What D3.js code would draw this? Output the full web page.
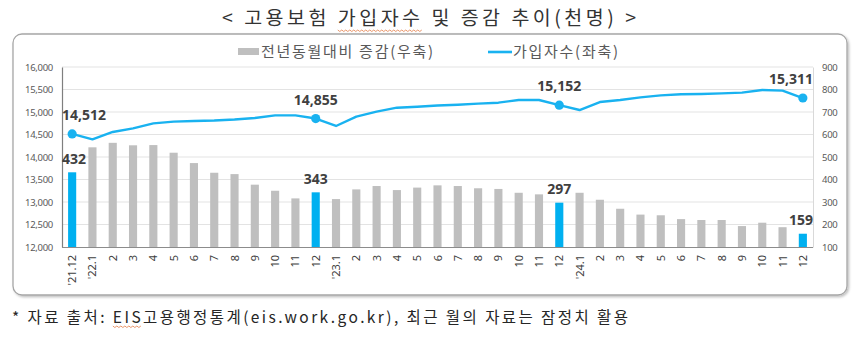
<!DOCTYPE html>
<html>
<head>
<meta charset="utf-8">
<script src="https://cdn.jsdelivr.net/npm/d3@7/dist/d3.min.js"></script>
<style>
  html, body { margin: 0; padding: 0; background: #fff; }
  svg { display: block; }
</style>
</head>
<body>
<svg id="chart" width="860" height="340"></svg>
<script>
// Month labels: Dec 2021 through Dec 2024
const months = ["'21.12",
  "'22.1","2","3","4","5","6","7","8","9","10","11","12",
  "'23.1","2","3","4","5","6","7","8","9","10","11","12",
  "'24.1","2","3","4","5","6","7","8","9","10","11","12"];

// Insured persons (thousands) — left axis
const subscribers = [14512,
  14393,14556,14637,14748,14785,14800,14811,14833,14867,14926,14926,14855,
  14689,14896,15007,15096,15118,15144,15160,15185,15207,15267,15267,15152,
  15044,15222,15267,15326,15370,15393,15400,15415,15430,15489,15474,15311];

// Year-on-year change (thousands) — right axis
const yoyChange = [432,
  543,563,552,553,519,473,430,424,377,350,316,343,
  313,356,371,353,364,374,371,361,358,341,334,297,
  341,310,270,244,241,224,220,220,193,208,188,159];

// December points get highlighted and labelled
const highlightIdx = [0, 12, 24, 36];

const leftTicks = [12000,12500,13000,13500,14000,14500,15000,15500,16000];
const rightTicks = [100,200,300,400,500,600,700,800,900];

const titleText = "< 고용보험 가입자수 및 증감 추이(천명) >";
const legendBarText = "전년동월대비 증감(우축)";
const legendLineText = "가입자수(좌축)";
const footnoteText = "* 자료 출처: EIS고용행정통계(eis.work.go.kr), 최근 월의 자료는 잠정치 활용";

const svg = d3.select("#chart");
const KR = "'Noto Sans CJK KR', 'Noto Sans', sans-serif";
const NUM = "'Noto Sans', 'Open Sans', sans-serif";

const plot = { left: 62, right: 813, top: 67, bottom: 247 };
const barGray = "#BFBFBF", accent = "#00B0F0", lineBlue = "#19B2F0";

// drop shadow for frame
const defs = svg.append("defs");
const f = defs.append("filter").attr("id", "shadow").attr("x", "-5%").attr("y", "-5%").attr("width", "110%").attr("height", "115%");
f.append("feDropShadow").attr("dx", 1.5).attr("dy", 1.5).attr("stdDeviation", 1.2).attr("flood-color", "#000").attr("flood-opacity", 0.25);

// Title
const title = svg.append("text")
  .attr("x", 222).attr("y", 25)
  .attr("font-family", KR).attr("font-size", 19.5).attr("fill", "#333")
  .attr("textLength", 414).attr("lengthAdjust", "spacing")
  .text(titleText);

// Frame
svg.append("rect")
  .attr("x", 13).attr("y", 34).attr("width", 834).attr("height", 261)
  .attr("rx", 9).attr("ry", 9)
  .attr("fill", "#fff").attr("stroke", "#A6A6A6").attr("stroke-width", 1.3)
  .attr("filter", "url(#shadow)");

// Scales
const x = d3.scaleBand().domain(d3.range(months.length))
  .range([plot.left, plot.right]).paddingInner(0.6).paddingOuter(0.3);
const yL = d3.scaleLinear().domain([12000, 16000]).range([plot.bottom, plot.top]);
const yR = d3.scaleLinear().domain([100, 900]).range([plot.bottom, plot.top]);
const cx = i => x(i) + x.bandwidth() / 2;

// Gridlines
svg.append("g").selectAll("line").data(leftTicks.slice(1)).join("line")
  .attr("x1", plot.left).attr("x2", plot.right)
  .attr("y1", d => yL(d)).attr("y2", d => yL(d))
  .attr("stroke", "#E3E3E3").attr("stroke-width", 1);

// Left axis
const axL = svg.append("g").attr("transform", `translate(${plot.left},0)`)
  .call(d3.axisLeft(yL).tickValues(leftTicks).tickSize(0).tickPadding(9).tickFormat(d3.format(",")));
axL.select(".domain").attr("stroke", "#7F7F7F").attr("stroke-width", 1.2);
axL.selectAll("text").attr("font-family", NUM).attr("font-size", 9.5).attr("fill", "#595959").attr("letter-spacing", -0.3);

// Right axis
const axR = svg.append("g").attr("transform", `translate(${plot.right},0)`)
  .call(d3.axisRight(yR).tickValues(rightTicks).tickSize(0).tickPadding(9));
axR.select(".domain").attr("stroke", "#D9D9D9").attr("stroke-width", 1);
axR.selectAll("text").attr("font-family", NUM).attr("font-size", 9.5).attr("fill", "#595959").attr("letter-spacing", -0.3);

// Bars
svg.append("g").selectAll("rect").data(yoyChange).join("rect")
  .attr("x", (d, i) => x(i)).attr("width", x.bandwidth())
  .attr("y", d => yR(d)).attr("height", d => yR(100) - yR(d))
  .attr("fill", (d, i) => highlightIdx.includes(i) ? accent : barGray);

// Bottom axis
const axB = svg.append("g").attr("transform", `translate(0,${plot.bottom})`)
  .call(d3.axisBottom(x).tickSize(0).tickFormat(i => months[i]));
axB.select(".domain").attr("stroke", "#8C8C8C").attr("stroke-width", 1.2)
  .attr("d", `M${plot.left},0.5H${plot.right}`);
axB.selectAll(".tick text")
  .attr("font-family", NUM).attr("font-size", 11).attr("fill", "#404040")
  .attr("text-anchor", "end").attr("dy", null).attr("y", 0)
  .attr("transform", "translate(4,8) rotate(-90)");

// Line
const line = d3.line().x((d, i) => cx(i)).y(d => yL(d));
svg.append("path").datum(subscribers)
  .attr("d", line).attr("fill", "none")
  .attr("stroke", lineBlue).attr("stroke-width", 2.4).attr("stroke-linejoin", "round");

svg.append("g").selectAll("circle").data(highlightIdx).join("circle")
  .attr("cx", i => cx(i)).attr("cy", i => yL(subscribers[i])).attr("r", 4.6)
  .attr("fill", lineBlue);

// Value labels (kept inside the plot area)
const labels = svg.append("g")
  .attr("font-family", NUM).attr("font-weight", "bold").attr("font-size", 14).attr("fill", "#404040");
function placeLabel(txt, px, py) {
  const t = labels.append("text").attr("y", py).attr("text-anchor", "middle").text(txt);
  const w = t.node().getComputedTextLength();
  const lx = Math.min(Math.max(px, plot.left + w / 2), plot.right - w / 2);
  t.attr("x", lx);
}
highlightIdx.forEach(i => {
  placeLabel(d3.format(",")(subscribers[i]), cx(i), yL(subscribers[i]) - 14);
  placeLabel(d3.format(",")(yoyChange[i]), cx(i), yR(yoyChange[i]) - 8.5);
});

// Legend
const lg = svg.append("g");
lg.append("rect").attr("x", 238).attr("y", 48).attr("width", 21).attr("height", 7).attr("fill", barGray);
lg.append("text").attr("x", 261).attr("y", 57)
  .attr("font-family", KR).attr("font-size", 15).attr("fill", "#595959")
  .attr("textLength", 172).attr("lengthAdjust", "spacing").text(legendBarText);
lg.append("line").attr("x1", 488).attr("x2", 512).attr("y1", 52).attr("y2", 52)
  .attr("stroke", lineBlue).attr("stroke-width", 2.6);
lg.append("text").attr("x", 513).attr("y", 57)
  .attr("font-family", KR).attr("font-size", 15).attr("fill", "#595959")
  .attr("textLength", 105).attr("lengthAdjust", "spacing").text(legendLineText);

// Footnote
const foot = svg.append("text")
  .attr("x", 12).attr("y", 323)
  .attr("font-family", KR).attr("font-size", 15.5).attr("fill", "#262626")
  .attr("textLength", 616).attr("lengthAdjust", "spacing")
  .text(footnoteText);

// Wavy proofing underlines under selected words
function squiggle(textSel, from, to) {
  const n = textSel.node();
  const a = n.getExtentOfChar(from), b = n.getExtentOfChar(to);
  const x0 = a.x, x1 = b.x + b.width, y0 = a.y + a.height - 1;
  let d = `M${x0},${y0}`;
  for (let xx = x0, k = 0; xx < x1; xx += 2, k++) d += `L${xx + 2},${y0 + (k % 2 ? 0 : 1.5)}`;
  svg.append("path").attr("d", d).attr("fill", "none").attr("stroke", "#E58A5A").attr("stroke-width", 0.9);
}
squiggle(title, titleText.indexOf("가입자수"), titleText.indexOf("가입자수") + 3);
squiggle(foot, footnoteText.indexOf("EIS"), footnoteText.indexOf("EIS") + 2);
</script>
</body>
</html>
